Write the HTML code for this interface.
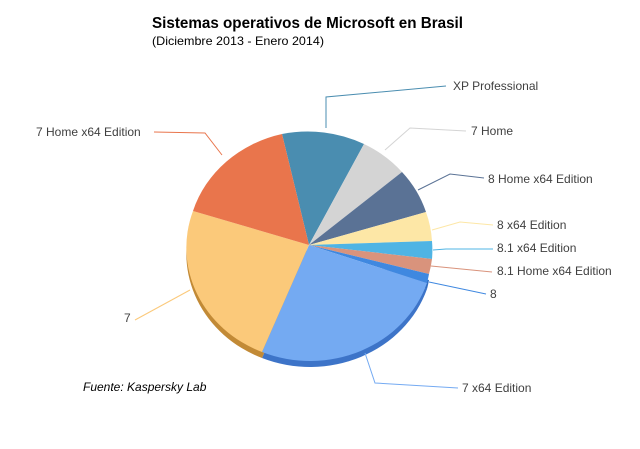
<!DOCTYPE html>
<html><head><meta charset="utf-8"><style>
html,body{margin:0;padding:0;background:#fff;}
svg{display:block;font-family:"Liberation Sans",sans-serif;}
</style></head><body>
<svg width="640" height="449" viewBox="0 0 640 449" xmlns="http://www.w3.org/2000/svg">
<rect width="640" height="449" fill="#fff"/>
<text x="152" y="28" font-size="15.5" font-weight="bold" fill="#000" textLength="311" lengthAdjust="spacingAndGlyphs">Sistemas operativos de Microsoft en Brasil</text>
<text x="152" y="45" font-size="12" fill="#000" textLength="172" lengthAdjust="spacingAndGlyphs">(Diciembre 2013 - Enero 2014)</text>
<!-- depth -->
<g transform="translate(0,6)">
<path d="M309,245 L427,283 A123 113 0 0 1 262,352 Z" fill="#3d74c8"/>
<path d="M309,245 L262,352 A123 113 0 0 1 193,211 Z" fill="#c28a36"/>
<path d="M309,245 L429,274 A123 113 0 0 1 427,283 Z" fill="#2f6cc0"/>
</g>
<!-- slices -->
<path d="M309,245 L282,134 A123 113 0 0 1 364,144 Z" fill="#4a8db0"/>
<path d="M309,245 L364,144 A123 113 0 0 1 402,172 Z" fill="#d4d4d4"/>
<path d="M309,245 L402,172 A123 113 0 0 1 426,212 Z" fill="#5a7295"/>
<path d="M309,245 L426,212 A123 113 0 0 1 432,241 Z" fill="#fde7a6"/>
<path d="M309,245 L432,241 A123 113 0 0 1 432,259 Z" fill="#4fb4e4"/>
<path d="M309,245 L432,259 A123 113 0 0 1 429,274 Z" fill="#d9937c"/>
<path d="M309,245 L429,274 A123 113 0 0 1 427,283 Z" fill="#3f88e0"/>
<path d="M309,245 L427,283 A123 113 0 0 1 262,352 Z" fill="#74aaf2"/>
<path d="M309,245 L262,352 A123 113 0 0 1 193,211 Z" fill="#fbc97a"/>
<path d="M309,245 L193,211 A123 113 0 0 1 282,134 Z" fill="#e9754c"/>
<!-- leader lines -->
<g fill="none" stroke-width="1">
<polyline points="326,128 326,97 446,86" stroke="#4a8db0"/>
<polyline points="385,150 410,128 466,131" stroke="#d4d4d4"/>
<polyline points="418,190 450,174 484,178" stroke="#5a7295"/>
<polyline points="432,230 460,222 493,225" stroke="#fde7a6"/>
<polyline points="433,250 446,249 493,249" stroke="#4fb4e4"/>
<polyline points="431,266 492,272" stroke="#d9937c"/>
<polyline points="429,282 486,294" stroke="#3f88e0"/>
<polyline points="365,353 375,383 458,388" stroke="#74aaf2"/>
<polyline points="190,290 135,320" stroke="#fbc97a"/>
<polyline points="222,155 205,133 154,132" stroke="#e9754c"/>
</g>
<g font-size="12" fill="#404040">
<text x="453" y="90">XP Professional</text>
<text x="471" y="135">7 Home</text>
<text x="488" y="183">8 Home x64 Edition</text>
<text x="497" y="229">8 x64 Edition</text>
<text x="497" y="252">8.1 x64 Edition</text>
<text x="497" y="275">8.1 Home x64 Edition</text>
<text x="490" y="298">8</text>
<text x="462" y="392">7 x64 Edition</text>
<text x="124" y="322">7</text>
<text x="36" y="136">7 Home x64 Edition</text>
</g>
<text x="83" y="391" font-size="12" font-style="italic" fill="#000">Fuente: Kaspersky Lab</text>
</svg>
</body></html>
